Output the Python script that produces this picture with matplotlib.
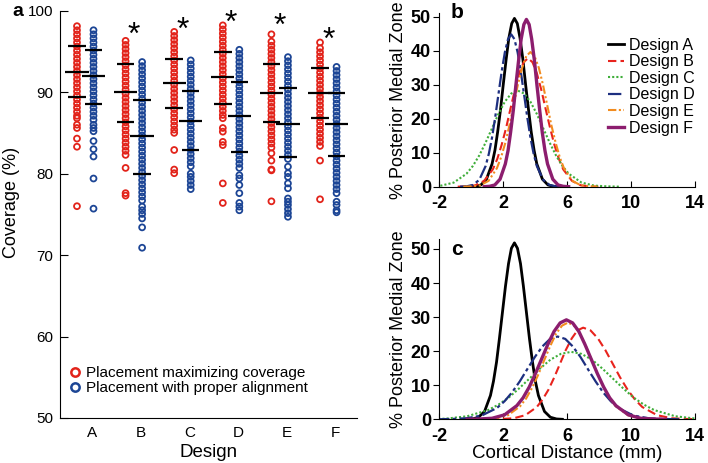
import numpy as np
import matplotlib.pyplot as plt
from matplotlib.lines import Line2D
from matplotlib.transforms import offset_copy

plt.rcParams['font.family'] = ['Liberation Sans', 'DejaVu Sans']
plt.rcParams['axes.unicode_minus'] = False

designs = ['A', 'B', 'C', 'D', 'E', 'F']

# panel a: coverage (%) for each placement
red_A = [98.1, 97.6, 97.1, 96.6, 96.1, 95.6, 95.1, 94.6, 94.1, 93.6, 93.1, 92.6, 92.1, 91.6, 91.1,
         90.6, 90.1, 89.6, 89.1, 88.6, 88.1, 87.6, 87.1, 86.8, 86.0, 85.6, 84.3, 83.3, 76.0]
blue_A = [97.6, 97.1, 96.6, 96.1, 95.6, 95.1, 94.6, 94.1, 93.6, 93.1, 92.6, 92.1, 91.6, 91.1, 90.6,
          90.1, 89.6, 89.1, 88.6, 88.1, 87.6, 87.1, 86.6, 86.0, 85.6, 85.2, 84.0, 83.0, 82.1, 79.4, 75.7]
red_B = [96.3, 95.8, 95.3, 94.8, 94.3, 93.8, 93.3, 92.8, 92.3, 91.8, 91.3, 90.8, 90.3, 89.8, 89.3,
         88.8, 88.3, 87.8, 87.3, 86.8, 86.3, 85.8, 85.3, 84.8, 84.3, 83.8, 83.3, 82.8, 82.3, 80.7,
         77.6, 77.3]
blue_B = [93.7, 93.2, 92.7, 92.2, 91.7, 91.2, 90.7, 90.2, 89.7, 89.2, 88.7, 88.2, 87.7, 87.2, 86.7,
          86.2, 85.7, 85.2, 84.7, 84.2, 83.7, 83.2, 82.7, 82.2, 81.7, 81.2, 80.7, 80.2, 79.7, 79.2,
          78.7, 78.2, 77.7, 77.2, 76.7, 75.95, 75.5, 75.05, 74.5, 73.4, 70.9]
red_C = [97.4, 96.9, 96.4, 95.9, 95.4, 94.9, 94.4, 93.9, 93.4, 92.9, 92.4, 91.9, 91.4, 90.9, 90.4,
         89.9, 89.4, 88.9, 88.4, 87.9, 87.4, 86.9, 86.4, 85.9, 85.4, 85.0, 82.9, 80.5, 80.05]
blue_C = [93.9, 93.4, 92.9, 92.4, 91.9, 91.4, 90.9, 90.4, 89.9, 89.4, 88.9, 88.4, 87.9, 87.4, 86.9,
          86.4, 85.9, 85.4, 84.9, 84.4, 83.9, 83.4, 82.9, 82.4, 81.9, 81.4, 80.9, 80.0, 79.6, 79.1,
          78.6, 78.1]
red_D = [98.2, 97.7, 97.2, 96.7, 96.2, 95.7, 95.2, 94.7, 94.2, 93.7, 93.2, 92.7, 92.2, 91.7, 91.2,
         90.7, 90.2, 89.7, 89.2, 88.7, 88.2, 87.7, 87.2, 86.8, 85.6, 85.15, 83.9, 83.5, 78.8, 76.4]
blue_D = [95.2, 94.7, 94.2, 93.7, 93.2, 92.7, 92.2, 91.7, 91.2, 90.7, 90.2, 89.7, 89.2, 88.7, 88.2,
          87.7, 87.2, 86.7, 86.2, 85.7, 85.2, 84.7, 84.2, 83.7, 83.2, 82.7, 82.2, 81.7, 81.2, 80.7,
          79.8, 79.4, 78.6, 77.6, 76.4, 75.95, 75.5]
red_E = [97.1, 96.2, 95.7, 95.2, 94.7, 94.2, 93.7, 93.2, 92.7, 92.2, 91.7, 91.2, 90.7, 90.2, 89.7,
         89.2, 88.7, 88.2, 87.7, 87.2, 86.7, 86.2, 85.7, 85.2, 84.7, 84.2, 83.7, 83.2, 82.5, 81.6,
         80.5, 80.4, 76.6]
blue_E = [94.3, 93.8, 93.3, 92.8, 92.3, 91.8, 91.3, 90.8, 90.3, 89.8, 89.3, 88.8, 88.3, 87.8, 87.3,
          86.8, 86.3, 85.8, 85.3, 84.8, 84.3, 83.8, 83.3, 82.8, 82.3, 81.8, 80.85, 80.05, 79.6, 78.8,
          78.2, 76.95, 76.55, 76.15, 75.65, 75.15, 74.7]
red_F = [96.1, 95.4, 94.9, 94.4, 93.9, 93.4, 92.9, 92.4, 91.9, 91.4, 90.9, 90.4, 89.9, 89.4, 88.9,
         88.4, 87.9, 87.4, 86.9, 86.4, 85.9, 85.4, 84.9, 84.4, 83.9, 83.4, 81.6, 76.85]
blue_F = [93.1, 92.6, 92.1, 91.6, 91.1, 90.6, 90.1, 89.6, 89.1, 88.6, 88.1, 87.6, 87.1, 86.6, 86.1,
          85.6, 85.1, 84.6, 84.1, 83.6, 83.1, 82.6, 82.1, 81.6, 81.1, 80.6, 80.1, 79.6, 79.1, 78.6,
          78.1, 77.6, 76.55, 76.15, 75.5, 75.25]

# mean and mean +/- SD bars
red_mean = [92.5, 90.0, 91.15, 91.8, 89.85, 89.85]
red_upper = [95.7, 93.45, 94.1, 94.9, 93.45, 92.95]
red_lower = [89.4, 86.35, 88.05, 88.55, 86.3, 86.8]
blue_mean = [91.95, 84.6, 86.5, 87.1, 86.1, 86.1]
blue_upper = [95.2, 89.05, 90.2, 91.25, 90.5, 89.9]
blue_lower = [88.5, 80.0, 82.9, 82.7, 82.05, 82.2]

# significance stars over designs B-F
star_y = [98.0, 98.6, 99.5, 99.1, 97.4]

# panel b: distribution of cortical distance (%)
xb_A = [-0.10, 0.25, 0.60, 0.95, 1.30, 1.48, 1.65, 1.83, 2.00, 2.18, 2.35, 2.53, 2.70, 2.88, 3.05,
        3.23, 3.40, 3.58, 3.75, 3.93, 4.10, 4.45, 4.80, 5.15, 5.50]
yb_A = [0.0, 0.1, 0.5, 2.2, 6.7, 10.7, 16.1, 22.7, 30.0, 37.4, 43.7, 48.0, 49.5, 48.0, 43.7,
        37.4, 30.0, 22.7, 16.1, 10.7, 6.7, 2.2, 0.5, 0.1, 0.0]
xb_B = [-0.85, -0.30, 0.25, 0.80, 1.35, 1.63, 1.90, 2.18, 2.45, 2.73, 3.00, 3.28, 3.55, 3.83, 4.10,
        4.38, 4.65, 4.93, 5.20, 5.48, 5.75, 6.30, 6.85, 7.40, 7.95]
yb_B = [0.0, 0.1, 0.4, 1.7, 5.1, 8.2, 12.3, 17.3, 22.9, 28.5, 33.4, 36.6, 37.8, 36.6, 33.4,
        28.5, 22.9, 17.3, 12.3, 8.2, 5.1, 1.7, 0.4, 0.1, 0.0]
xb_C = [-3.50, -2.70, -1.90, -1.10, -0.30, 0.10, 0.50, 0.90, 1.30, 1.70, 2.10, 2.50, 2.90, 3.30, 3.70,
        4.10, 4.50, 4.90, 5.30, 5.70, 6.10, 6.90, 7.70, 8.50, 9.30]
yb_C = [0.0, 0.1, 0.3, 1.2, 3.8, 6.1, 9.2, 13.0, 17.2, 21.4, 25.0, 27.4, 28.3, 27.4, 25.0,
        21.4, 17.2, 13.0, 9.2, 6.1, 3.8, 1.2, 0.3, 0.1, 0.0]
xb_D = [-0.70, -0.30, 0.10, 0.50, 0.90, 1.10, 1.30, 1.50, 1.70, 1.90, 2.10, 2.30, 2.50, 2.70, 2.90,
        3.10, 3.30, 3.50, 3.70, 3.90, 4.10, 4.50, 4.90, 5.30, 5.70]
yb_D = [0.0, 0.1, 0.5, 2.0, 6.1, 9.7, 14.5, 20.5, 27.2, 33.8, 39.5, 43.4, 44.8, 43.4, 39.5,
        33.8, 27.2, 20.5, 14.5, 9.7, 6.1, 2.0, 0.5, 0.1, 0.0]
xb_E = [-0.50, 0.03, 0.55, 1.08, 1.60, 1.86, 2.13, 2.39, 2.65, 2.91, 3.18, 3.44, 3.70, 3.96, 4.23,
        4.49, 4.75, 5.01, 5.28, 5.54, 5.80, 6.33, 6.85, 7.38, 7.90]
yb_E = [0.0, 0.1, 0.4, 1.7, 5.4, 8.6, 12.9, 18.1, 24.0, 29.9, 34.9, 38.4, 39.6, 38.4, 34.9,
        29.9, 24.0, 18.1, 12.9, 8.6, 5.4, 1.7, 0.4, 0.1, 0.0]
xb_F = [0.81, 1.14, 1.47, 1.80, 2.13, 2.30, 2.46, 2.63, 2.79, 2.96, 3.12, 3.29, 3.45, 3.62, 3.78,
        3.95, 4.11, 4.28, 4.44, 4.61, 4.77, 5.10, 5.43, 5.76, 6.09]
yb_F = [0.0, 0.1, 0.5, 2.2, 6.7, 10.6, 16.0, 22.5, 29.8, 37.1, 43.4, 47.7, 49.2, 47.7, 43.4,
        37.1, 29.8, 22.5, 16.0, 10.6, 6.7, 2.2, 0.5, 0.1, 0.0]

# panel c
xc_A = [-0.30, 0.08, 0.45, 0.83, 1.20, 1.39, 1.58, 1.76, 1.95, 2.14, 2.33, 2.51, 2.70, 2.89, 3.08,
        3.26, 3.45, 3.64, 3.83, 4.01, 4.20, 4.58, 4.95, 5.33, 5.70]
yc_A = [0.0, 0.1, 0.6, 2.3, 7.0, 11.2, 16.8, 23.7, 31.4, 39.1, 45.7, 50.2, 51.8, 50.2, 45.7,
        39.1, 31.4, 23.7, 16.8, 11.2, 7.0, 2.3, 0.6, 0.1, 0.0]
xc_B = [1.20, 1.93, 2.65, 3.38, 4.10, 4.46, 4.83, 5.19, 5.55, 5.91, 6.28, 6.64, 7.00, 7.46, 7.93,
        8.39, 8.85, 9.31, 9.78, 10.24, 10.70, 11.63, 12.55, 13.48, 14.40]
yc_B = [0.0, 0.1, 0.3, 1.2, 3.6, 5.8, 8.7, 12.3, 16.3, 20.3, 23.7, 26.1, 26.9, 26.1, 23.7,
        20.3, 16.3, 12.3, 8.7, 5.8, 3.6, 1.2, 0.3, 0.1, 0.0]
xc_C = [-4.15, -2.85, -1.55, -0.25, 1.05, 1.70, 2.35, 3.00, 3.65, 4.30, 4.95, 5.60, 6.25, 6.90, 7.55,
        8.20, 8.85, 9.50, 10.15, 10.80, 11.45, 12.75, 14.05, 15.35, 16.65]
yc_C = [0.0, 0.0, 0.2, 0.9, 2.7, 4.3, 6.4, 9.1, 12.0, 14.9, 17.5, 19.2, 19.8, 19.2, 17.5,
        14.9, 12.0, 9.1, 6.4, 4.3, 2.7, 0.9, 0.2, 0.0, 0.0]
xc_D = [-2.20, -1.25, -0.30, 0.65, 1.60, 2.08, 2.55, 3.03, 3.50, 3.98, 4.45, 4.93, 5.40, 5.88, 6.35,
        6.83, 7.30, 7.78, 8.25, 8.73, 9.20, 10.15, 11.10, 12.05, 13.00]
yc_D = [0.0, 0.1, 0.3, 1.1, 3.3, 5.3, 7.9, 11.1, 14.7, 18.3, 21.4, 23.6, 24.3, 23.6, 21.4,
        18.3, 14.7, 11.1, 7.9, 5.3, 3.3, 1.1, 0.3, 0.1, 0.0]
xc_E = [0.05, 0.80, 1.55, 2.30, 3.05, 3.43, 3.80, 4.18, 4.55, 4.93, 5.30, 5.68, 6.05, 6.43, 6.80,
        7.18, 7.55, 7.93, 8.30, 8.68, 9.05, 9.80, 10.55, 11.30, 12.05]
yc_E = [0.0, 0.1, 0.3, 1.2, 3.8, 6.1, 9.2, 13.0, 17.2, 21.4, 25.1, 27.5, 28.4, 27.5, 25.1,
        21.4, 17.2, 13.0, 9.2, 6.1, 3.8, 1.2, 0.3, 0.1, 0.0]
xc_F = [-0.25, 0.53, 1.30, 2.08, 2.85, 3.24, 3.63, 4.01, 4.40, 4.79, 5.18, 5.56, 5.95, 6.34, 6.73,
        7.11, 7.50, 7.89, 8.28, 8.66, 9.05, 9.83, 10.60, 11.38, 12.15]
yc_F = [0.0, 0.1, 0.3, 1.3, 4.0, 6.3, 9.5, 13.4, 17.7, 22.0, 25.8, 28.3, 29.2, 28.3, 25.8,
        22.0, 17.7, 13.4, 9.5, 6.3, 4.0, 1.3, 0.3, 0.1, 0.0]

RED = '#e2231a'
BLUE = '#1c4595'

line_styles = [
    dict(color='black', lw=2.0, ls='-'),
    dict(color='#e8231d', lw=1.5, ls=(0, (4, 2))),
    dict(color='#3fae3a', lw=1.5, ls=(0, (1, 1))),
    dict(color='#1d2f80', lw=1.6, ls=(0, (6, 1.5, 1.5, 1.5))),
    dict(color='#f28c1f', lw=1.5, ls=(0, (4, 1.2, 1, 1.2, 1, 1.2))),
    dict(color='#8c1d6e', lw=2.4, ls='-'),
]

fig = plt.figure(figsize=(7.08, 4.63), dpi=100)

# ---- panel a
ax = fig.add_axes([0.0847, 0.0972, 0.4195, 0.8797])
red_sets = [red_A, red_B, red_C, red_D, red_E, red_F]
blue_sets = [blue_A, blue_B, blue_C, blue_D, blue_E, blue_F]
for i in range(6):
    xr = i + 1 - 0.31
    xb = i + 1 + 0.03
    ax.scatter(np.full(len(red_sets[i]), xr), red_sets[i], s=18, facecolors='none',
               edgecolors=RED, linewidths=1.3, zorder=2)
    ax.scatter(np.full(len(blue_sets[i]), xb), blue_sets[i], s=18, facecolors='none',
               edgecolors=BLUE, linewidths=1.3, zorder=2)
    ax.hlines([red_upper[i], red_lower[i]], xr - 0.18, xr + 0.18, color='k', lw=1.6, zorder=3)
    ax.hlines(red_mean[i], xr - 0.24, xr + 0.24, color='k', lw=1.6, zorder=3)
    ax.hlines([blue_upper[i], blue_lower[i]], xb - 0.18, xb + 0.18, color='k', lw=1.6, zorder=3)
    ax.hlines(blue_mean[i], xb - 0.24, xb + 0.24, color='k', lw=1.6, zorder=3)

star_tr = offset_copy(ax.transData, fig=fig, x=0, y=-9, units='dots')
for j, y in enumerate(star_y):
    ax.text(j + 2 - 0.14, y, '*', fontsize=23, ha='center', va='center', clip_on=False,
            transform=star_tr)

ax.set_xlim(0.34, 6.45)
ax.set_ylim(50, 100)
ax.set_yticks(range(50, 101, 10))
ax.set_xticks(range(1, 7))
ax.set_xticklabels(designs)
ax.spines['top'].set_visible(False)
ax.spines['right'].set_visible(False)
ax.tick_params(axis='y', direction='in', length=6, labelsize=11, pad=5)
ax.tick_params(axis='x', length=0, labelsize=11, pad=6)
ax.set_xlabel('Design', fontsize=13.5, labelpad=3)
ax.set_ylabel('Coverage (%)', fontsize=13)
ax.yaxis.set_label_coords(-0.135, 0.53)

handles = [
    Line2D([], [], ls='none', marker='o', ms=6, mfc='none', mec=RED, mew=1.8,
           label='Placement maximizing coverage'),
    Line2D([], [], ls='none', marker='o', ms=6, mfc='none', mec=BLUE, mew=1.8,
           label='Placement with proper alignment'),
]
ax.legend(handles=handles, loc='upper left', bbox_to_anchor=(0.03, 0.128), frameon=False,
          fontsize=11, handlelength=0.8, handletextpad=0.3, labelspacing=0.1,
          borderpad=0, borderaxespad=0)

# ---- panels b and c
def curve_axes(rect, ymax, curves):
    a = fig.add_axes(rect)
    for (x, y), st, d in zip(curves, line_styles, designs):
        a.plot(x, y, label='Design ' + d, **st)
    a.set_xlim(-2, 14)
    a.set_ylim(0, ymax)
    a.set_xticks([-2, 2, 6, 10, 14])
    a.set_yticks(range(0, 51, 10))
    a.spines['top'].set_visible(False)
    a.spines['right'].set_visible(False)
    a.tick_params(axis='y', direction='out', length=4, labelsize=13, pad=2)
    a.tick_params(axis='x', direction='in', length=4, labelsize=13, pad=6)
    for lab in a.get_xticklabels() + a.get_yticklabels():
        lab.set_fontweight('bold')
    a.set_ylabel('% Posterior Medial Zone', fontsize=13, labelpad=3)
    return a

axb = curve_axes([0.6205, 0.5968, 0.3612, 0.3745], 51,
                 [(xb_A, yb_A), (xb_B, yb_B), (xb_C, yb_C), (xb_D, yb_D), (xb_E, yb_E), (xb_F, yb_F)])
axb.legend(loc='upper left', bbox_to_anchor=(0.66, 0.86), frameon=False, fontsize=11.5,
           handlelength=1.0, handletextpad=0.3, labelspacing=0.1, borderpad=0, borderaxespad=0)

axc = curve_axes([0.6205, 0.0944, 0.3612, 0.3899], 53,
                 [(xc_A, yc_A), (xc_B, yc_B), (xc_C, yc_C), (xc_D, yc_D), (xc_E, yc_E), (xc_F, yc_F)])
axc.set_xlabel('Cortical Distance (mm)', fontsize=13.5, labelpad=0)

fig.text(18 / 708, 1 - 12 / 463, 'a', fontsize=14, fontweight='bold', ha='center', va='center')
fig.text(457 / 708, 1 - 13 / 463, 'b', fontsize=15, fontweight='bold', ha='center', va='center')
fig.text(457 / 708, 1 - 250 / 463, 'c', fontsize=15, fontweight='bold', ha='center', va='center')

fig.savefig('out.png', dpi=100)
